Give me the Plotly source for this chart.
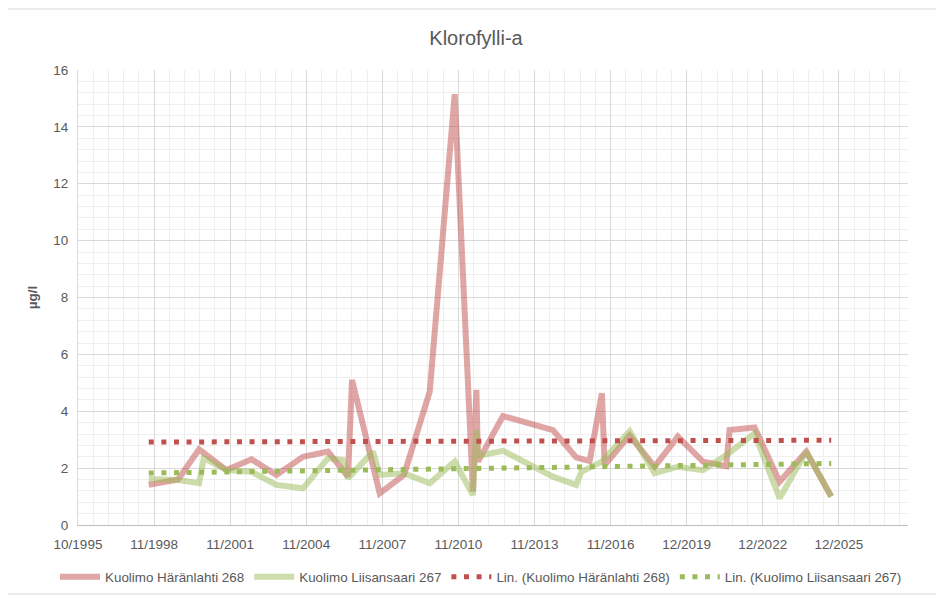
import numpy as np
import pandas as pd
import plotly.graph_objects as go

# ---------------- data ----------------
red_name = "Kuolimo Häränlahti 268"
green_name = "Kuolimo Liisansaari 267"

red_dates = ["1998-08-16", "1999-10-14", "2000-08-12", "2001-09-12", "2002-09-09",
             "2003-09-05", "2004-09-23", "2005-09-20", "2006-07-05", "2006-09-02",
             "2007-10-07", "2008-09-22", "2009-09-29", "2010-09-25", "2011-06-16",
             "2011-08-05", "2011-08-28", "2012-08-23", "2014-08-16", "2015-07-17",
             "2016-01-28", "2016-07-24", "2016-09-01", "2017-08-28", "2018-08-25",
             "2019-07-27", "2020-07-23", "2021-06-25", "2021-08-12", "2022-08-09",
             "2023-08-05", "2024-08-25", "2025-08-21"]
red_values = [1.41, 1.60, 2.66, 1.93, 2.31,
              1.76, 2.40, 2.58, 1.70, 5.10,
              1.11, 1.76, 4.69, 15.15, 1.17,
              4.75, 2.23, 3.83, 3.34, 2.38,
              2.25, 4.63, 2.11, 3.15, 2.05,
              3.11, 2.23, 2.07, 3.34, 3.43,
              1.52, 2.58, 1.00]

green_dates = ["1998-08-16", "1999-10-14", "2000-08-12", "2000-10-19", "2001-09-12",
               "2002-09-09", "2003-09-05", "2004-09-23", "2005-09-20", "2006-04-24",
               "2006-07-05", "2007-07-02", "2007-10-07", "2008-09-22", "2009-09-29",
               "2010-09-25", "2011-06-16", "2011-08-05", "2011-08-28", "2012-08-23",
               "2014-08-16", "2015-07-17", "2015-09-30", "2016-07-24", "2017-08-28",
               "2018-08-25", "2019-07-27", "2020-07-23", "2021-06-25", "2022-08-09",
               "2023-08-05", "2024-08-25", "2025-08-21"]
green_values = [1.62, 1.58, 1.47, 2.35, 1.93,
                1.87, 1.41, 1.29, 2.35, 2.29,
                1.64, 2.58, 1.76, 1.82, 1.47,
                2.23, 1.05, 3.35, 2.43, 2.61,
                1.70, 1.41, 1.87, 2.23, 3.30,
                1.82, 2.05, 1.93, 2.46, 3.22,
                0.94, 2.58, 1.00]

tick_labels = ["10/1995", "11/1998", "11/2001", "11/2004", "11/2007", "11/2010",
               "11/2013", "11/2016", "12/2019", "12/2022", "12/2025"]

title_text = "Klorofylli-a"
y_title = "µg/l"

# Excel-style date axis (serial numbers)
EXCEL_EPOCH = pd.Timestamp("1899-12-30")
axis_min_serial, axis_max_serial, major_unit, minor_unit = 35000, 47000, 1100, 220


def serial_to_date(s):
    return EXCEL_EPOCH + pd.Timedelta(days=float(s))


def to_serial(dates):
    return np.array([(pd.Timestamp(d) - EXCEL_EPOCH).days for d in dates], dtype=float)


tick_vals = [serial_to_date(axis_min_serial + i * major_unit) for i in range(len(tick_labels))]

# ---------------- figure ----------------
RED = "#C0504D"
GREEN = "#9BBB59"
FONT = "Liberation Sans, Arial, sans-serif"
TXT = "#595959"

W, H = 936, 590  # page body has an 8px margin
L, R, T, B = 70, 36, 62, 73
pw, ph = W - L - R, H - T - B

fig = go.Figure()

fig.add_trace(go.Scatter(x=pd.to_datetime(red_dates), y=red_values, mode="lines",
                         name=red_name, opacity=0.5,
                         line=dict(color=RED, width=6)))
fig.add_trace(go.Scatter(x=pd.to_datetime(green_dates), y=green_values, mode="lines",
                         name=green_name, opacity=0.5,
                         line=dict(color=GREEN, width=6)))


def trend(dates, values):
    xs = to_serial(dates)
    k, b = np.polyfit(xs, np.array(values), 1)
    ends = np.array([xs.min(), xs.max()])
    return [serial_to_date(v) for v in ends], list(k * ends + b)


tx, ty = trend(red_dates, red_values)
fig.add_trace(go.Scatter(x=tx, y=ty, mode="lines", name="Lin. (" + red_name + ")",
                         line=dict(color=RED, width=5, dash="5px,7.6px")))
tx, ty = trend(green_dates, green_values)
fig.add_trace(go.Scatter(x=tx, y=ty, mode="lines", name="Lin. (" + green_name + ")",
                         line=dict(color=GREEN, width=5, dash="5px,7.6px")))

fig.update_layout(
    width=W, height=H,
    margin=dict(l=L, r=R, t=T, b=B, autoexpand=False),
    paper_bgcolor="white", plot_bgcolor="white",
    font=dict(family=FONT, size=13, color=TXT),
    title=dict(text=title_text, x=0.5, xanchor="center", y=1 - 30 / H, yanchor="middle",
               font=dict(family=FONT, size=20, color=TXT)),
    showlegend=True,
    legend=dict(orientation="h", x=(47 - L) / pw, xanchor="left",
                y=(T + ph - 569) / ph, yanchor="middle",
                font=dict(family=FONT, size=13.4, color=TXT), itemwidth=40,
                traceorder="normal"),
    xaxis=dict(
        type="date",
        range=[serial_to_date(axis_min_serial), serial_to_date(axis_max_serial)],
        tickmode="array", tickvals=tick_vals, ticktext=tick_labels,
        showgrid=True, gridcolor="#D9D9D9", gridwidth=1,
        minor=dict(tick0=serial_to_date(axis_min_serial), dtick=minor_unit * 86400000,
                   showgrid=True, gridcolor="#EFEFEF", gridwidth=1),
        showline=True, linecolor="#BFBFBF", linewidth=1,
        ticks="", tickfont=dict(size=13.5, color=TXT), zeroline=False,
        ticklabelstandoff=7, automargin=False,
    ),
    yaxis=dict(
        range=[0, 16], dtick=2, tick0=0,
        showgrid=True, gridcolor="#D9D9D9", gridwidth=1,
        minor=dict(dtick=0.4, showgrid=True, gridcolor="#EFEFEF", gridwidth=1),
        showline=True, linecolor="#D9D9D9", linewidth=1,
        ticks="", tickfont=dict(size=13.5, color=TXT), zeroline=False,
        ticklabelstandoff=6, automargin=False,
        title=dict(text="<b>" + y_title + "</b>", font=dict(size=13.5, color=TXT), standoff=12),
    ),
)

# outer chart border
fig.add_shape(type="rect", xref="paper", yref="paper",
              x0=(-4 - L) / pw, x1=(933 - L) / pw,
              y0=(T + ph - 586) / ph, y1=(T + ph - 1) / ph,
              line=dict(color="#D9D9D9", width=1), fillcolor="rgba(0,0,0,0)", layer="below")

fig.write_html("out.html")
